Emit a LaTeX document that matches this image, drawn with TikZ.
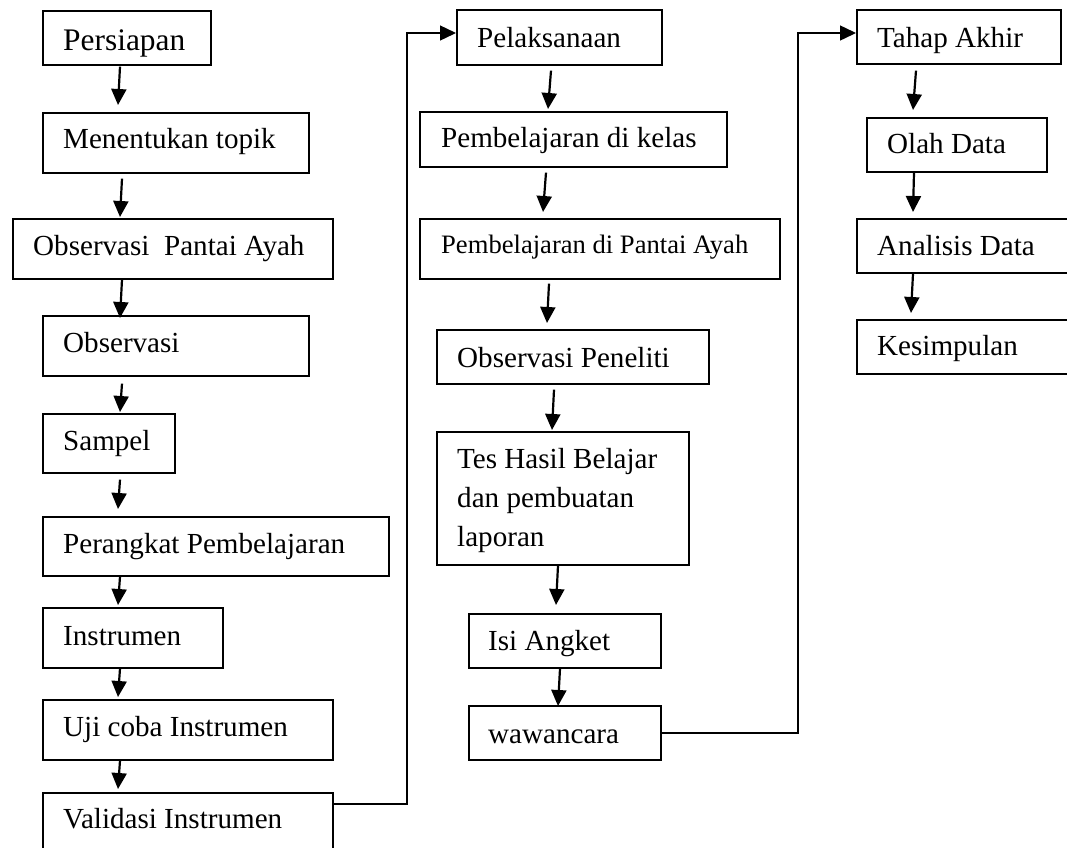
\documentclass[tikz,border=0pt]{standalone}
\usepackage{fontspec}
\setmainfont{Liberation Serif}
\usetikzlibrary{arrows.meta,calc}
\tikzset{
  box/.style={draw=black, line width=1.6pt, inner sep=0pt, anchor=north west},
  txt/.style={anchor=base west, inner sep=0pt, font=\fontsize{29.1}{39}\selectfont},
  arr/.style={line width=2.2pt, -{Triangle[width=15pt,length=16pt]}},
  link/.style={line width=1.4pt, -{Triangle[width=15pt,length=16pt]}},
}
\newcommand{\mybox}[5]{\node[box, minimum width=#4pt-#2pt, minimum height=#5pt-#3pt] (#1) at (#2,#3) {};}
\begin{document}
\begin{tikzpicture}[x=1pt,y=-1pt]
\useasboundingbox (0,0) rectangle (1067,847);
\begin{scope}
\clip (0,0) rectangle (1067,847);
% column 1
\mybox{persiapan}{42}{10}{210}{64}
\mybox{menentukan}{42}{112}{308}{172}
\mybox{obspantai}{12}{218}{332}{278}
\mybox{observasi}{42}{315}{308}{375}
\mybox{sampel}{42}{413}{174}{472}
\mybox{perangkat}{42}{516}{388}{575}
\mybox{instrumen}{42}{607}{222}{667}
\mybox{ujicoba}{42}{699}{332}{759}
\mybox{validasi}{42}{792}{332}{870}
% column 2
\mybox{pelaksanaan}{456}{9}{661}{64}
\mybox{kelas}{419}{111}{726}{166}
\mybox{pantai}{419}{218}{779}{278}
\mybox{peneliti}{436}{329}{708}{383}
\mybox{tes}{436}{431}{688}{564}
\mybox{angket}{468}{613}{660}{667}
\mybox{wawancara}{468}{705}{660}{759}
% column 3
\mybox{tahap}{856}{9}{1060}{63}
\mybox{olah}{866}{117}{1046}{171}
\mybox{analisis}{856}{218}{1080}{272}
\mybox{kesimpulan}{856}{319}{1080}{373}
\end{scope}

% texts
\node[txt, font=\fontsize{31.4}{39}\selectfont] (t1) at (63,50) {Persiapan};
\node[txt] (t2) at (63,148) {Menentukan topik};
\node[txt] (t3) at (33,255) {Observasi\hspace{0.5em}Pantai Ayah};
\node[txt] (t4) at (63,352) {Observasi};
\node[txt] (t5) at (63,450) {Sampel};
\node[txt] (t6) at (63,553) {Perangkat Pembelajaran};
\node[txt] (t7) at (63,645) {Instrumen};
\node[txt] (t8) at (63,736) {Uji coba Instrumen};
\node[txt] (t9) at (63,828) {Validasi Instrumen};
\node[txt] (u1) at (477,47) {Pelaksanaan};
\node[txt] (u2) at (441,147) {Pembelajaran di kelas};
\node[txt, font=\fontsize{26.6}{39}\selectfont] (u3) at (441,253) {Pembelajaran di Pantai Ayah};
\node[txt] (u4) at (457,367) {Observasi Peneliti};
\node[txt] (u5a) at (457,468) {Tes Hasil Belajar};
\node[txt] (u5b) at (457,507) {dan pembuatan};
\node[txt] (u5c) at (457,546) {laporan};
\node[txt] (u6) at (488,650) {Isi Angket};
\node[txt] (u7) at (488,743) {wawancara};
\node[txt] (v1) at (877,47) {Tahap Akhir};
\node[txt] (v2) at (887,153) {Olah Data};
\node[txt] (v3) at (877,255) {Analisis Data};
\node[txt] (v4) at (877,355) {Kesimpulan};

% arrows column 1
\draw[arr] ($(persiapan.south west)+(78,1)$) -- ($(menentukan.north west)+(76,-7)$);
\draw[arr] ($(menentukan.south west)+(80,5)$) -- ($(obspantai.north west)+(108,-1)$);
\draw[arr] ($(obspantai.south west)+(110,0)$) -- ($(observasi.north west)+(78,3)$);
\draw[arr] ($(observasi.south west)+(80,7)$) -- ($(sampel.north west)+(78,-1)$);
\draw[arr] ($(sampel.south west)+(78,6)$) -- ($(perangkat.north west)+(76,-7)$);
\draw[arr] ($(perangkat.south west)+(78,0)$) -- ($(instrumen.north west)+(76,-2)$);
\draw[arr] ($(instrumen.south west)+(78,0)$) -- ($(ujicoba.north west)+(76,-2)$);
\draw[arr] ($(ujicoba.south west)+(78,0)$) -- ($(validasi.north west)+(76,-3)$);
% arrows column 2
\draw[arr] ($(pelaksanaan.south west)+(95,5)$) -- ($(kelas.north west)+(129,-2)$);
\draw[arr] ($(kelas.south west)+(127,5)$) -- ($(pantai.north west)+(124,-6)$);
\draw[arr] ($(pantai.south west)+(130,4)$) -- ($(peneliti.north west)+(111,-6)$);
\draw[arr] ($(peneliti.south west)+(118,5)$) -- ($(tes.north west)+(116,-1)$);
\draw[arr] ($(tes.south west)+(122,0)$) -- ($(angket.north west)+(88,-8)$);
\draw[arr] ($(angket.south west)+(92,0)$) -- ($(wawancara.north west)+(90,1)$);
% arrows column 3
\draw[arr] ($(tahap.south west)+(60,6)$) -- ($(olah.north west)+(47,-7)$);
\draw[arr] ($(olah.south west)+(48,0)$) -- ($(analisis.north west)+(57,-6)$);
\draw[arr] ($(analisis.south west)+(57,0)$) -- ($(kesimpulan.north west)+(55,-6)$);

% long connectors
\coordinate (k1) at (407,804);
\coordinate (k2) at (407,33);
\draw[link] ($(validasi.north east)+(0,12)$) -- (k1) -- (k2) -- (pelaksanaan.west |- k2);
\coordinate (m1) at (798,733);
\coordinate (m2) at (798,33);
\draw[link] ($(wawancara.north east)+(0,28)$) -- (m1) -- (m2) -- (tahap.west |- m2);
\end{tikzpicture}
\end{document}
